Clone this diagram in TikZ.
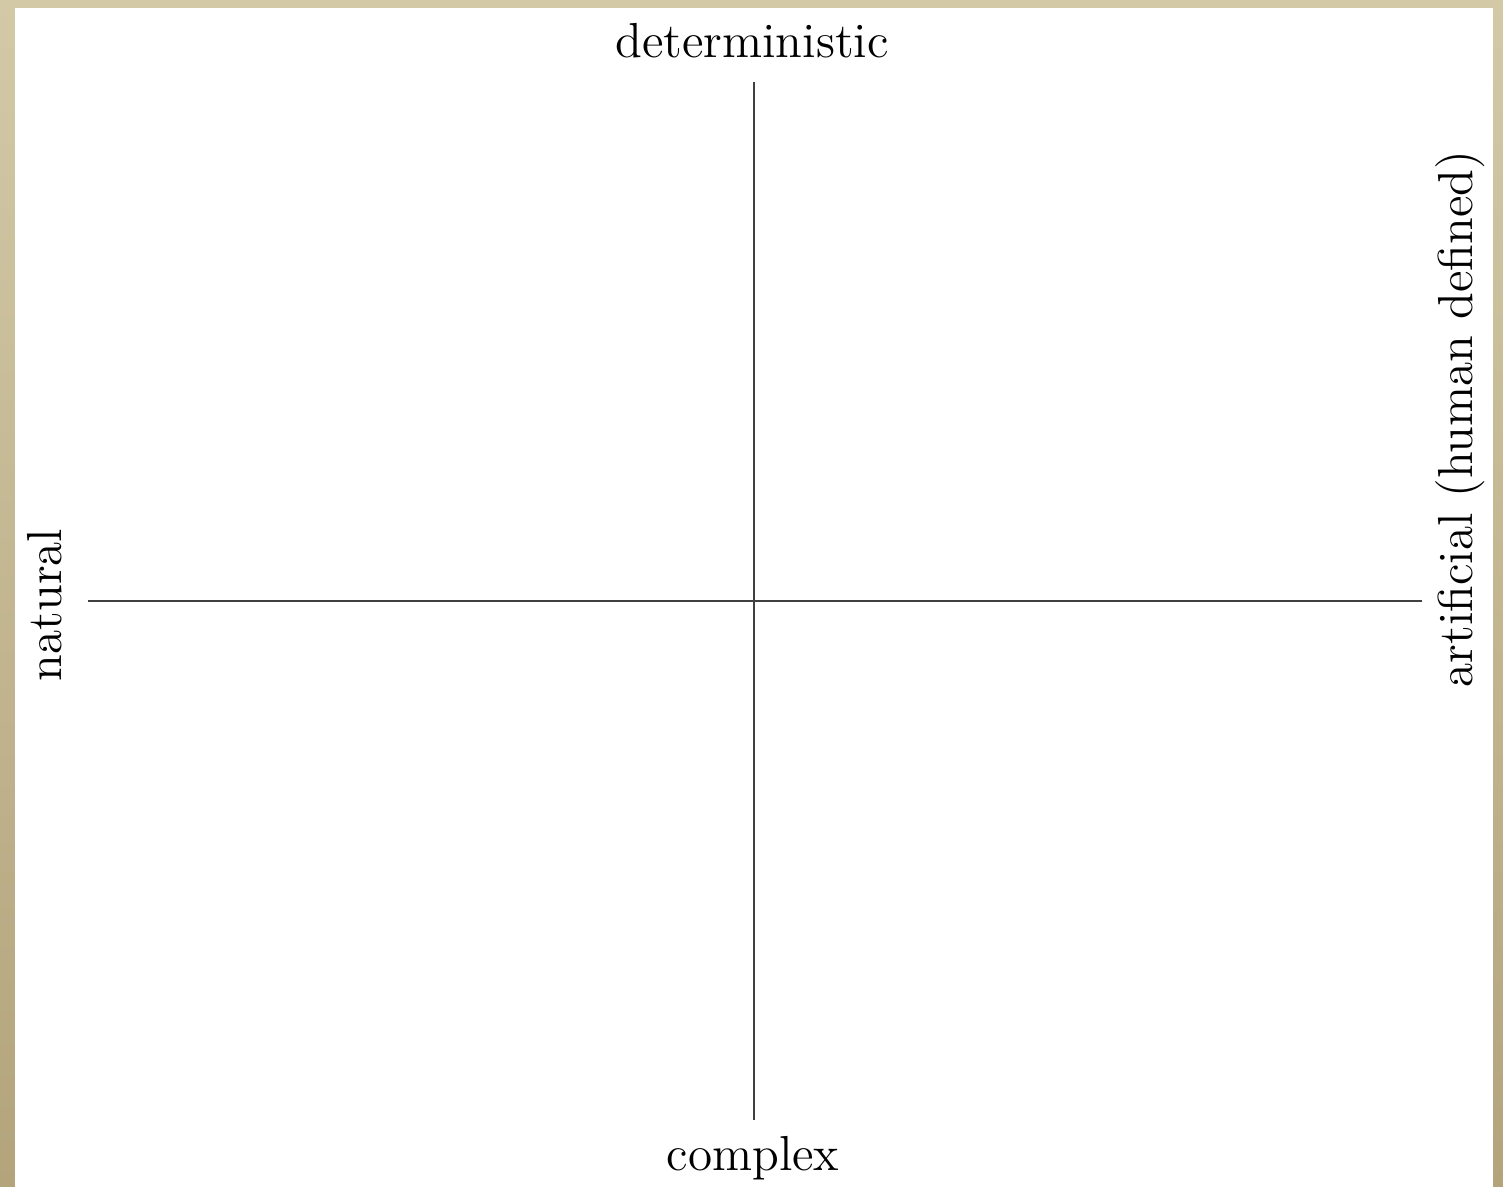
\documentclass[tikz,border=0pt]{standalone}
\usepackage{xcolor}
\usepackage{tikz}
\usetikzlibrary{positioning,calc}

\definecolor{parchtop}{HTML}{D3C9A7}
\definecolor{parchbot}{HTML}{B3A47C}

\begin{document}
\begin{tikzpicture}[
  lbl/.style={inner sep=1pt, font=\fontsize{14}{16}\selectfont},
  axis/.style={line width=0.75pt, draw=black!75}
]
% frame and white sheet
\shade[top color=parchtop, bottom color=parchbot] (0,0) rectangle (15.03,11.87);
\fill[white] (0.15,0) rectangle (14.93,11.79);
\useasboundingbox (0,0) rectangle (15.03,11.87);

\coordinate (top) at (7.54,11.05);
\coordinate (bot) at (7.54,0.67);
\coordinate (lft) at (0.88,5.86);
\coordinate (rgt) at (14.22,5.86);

\node[lbl] (det) at (7.52,11.46) {deterministic};
\node[lbl] (cpx) at (7.53,0.29) {complex};
\node[lbl, rotate=90] (nat) at (0.45,5.82) {natural};
\node[lbl, rotate=90] (art) at (14.60,7.68) {artificial (human defined)};

\draw[axis] (top) -- (bot);
\draw[axis] (lft) -- (rgt);
\end{tikzpicture}
\end{document}
